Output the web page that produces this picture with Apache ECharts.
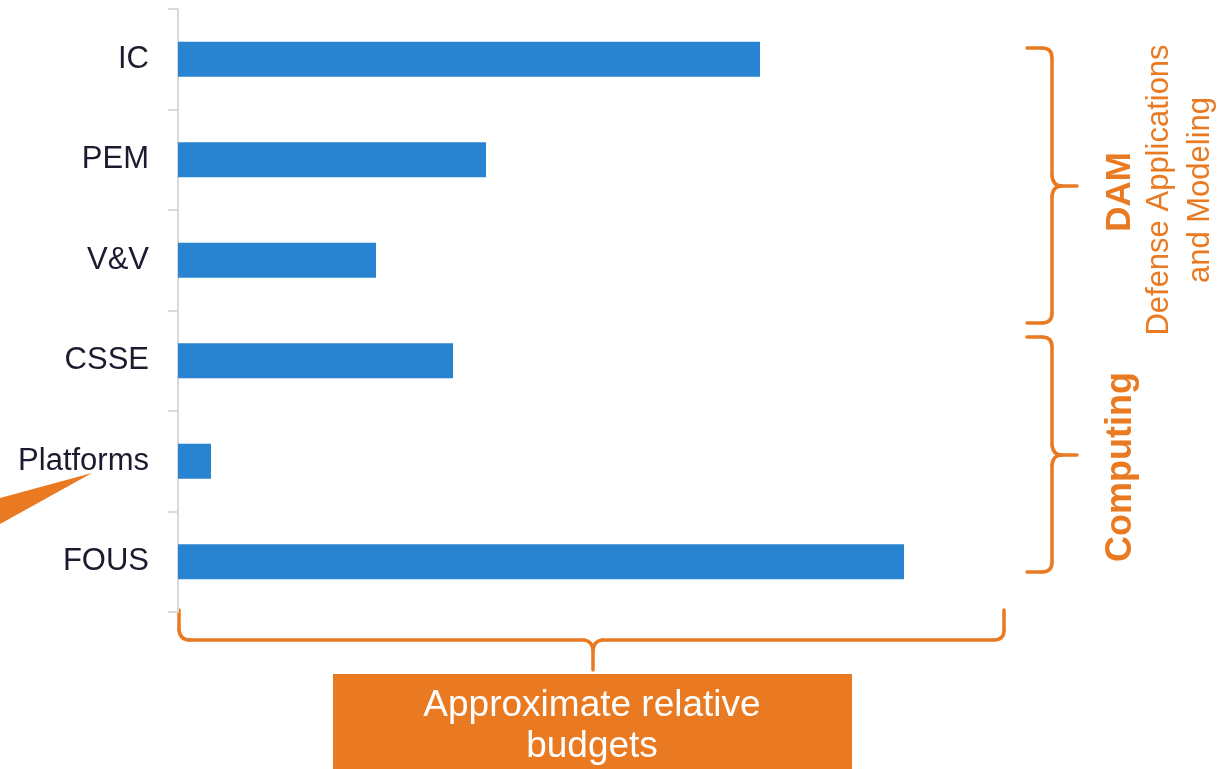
<!DOCTYPE html>
<html>
<head>
<meta charset="utf-8">
<style>
html,body{margin:0;padding:0;background:#fff;}
#chart{width:1228px;height:769px;}
</style>
<script src="https://cdn.jsdelivr.net/npm/echarts@6/dist/echarts.min.js"></script>
</head>
<body>
<div id="chart"></div>
<script>
// Data (relative budgets, arbitrary units)
const categories = ['IC', 'PEM', 'V&V', 'CSSE', 'Platforms', 'FOUS'];
const budgets = [582, 308, 198, 275, 33, 726];
const axisMax = 827;

const ORANGE = '#e97a22';
const BLUE = '#2883d0';
const FONT = '"Liberation Sans", Arial, sans-serif';
const LW = 3.5;

function seg(list) {
  return list.map(s => {
    if (s[0] === 'L') {
      return { type: 'line', shape: { x1: s[1], y1: s[2], x2: s[3], y2: s[4] },
        style: { stroke: ORANGE, lineWidth: LW, lineCap: 'round' } };
    }
    return { type: 'bezierCurve', shape: { x1: s[1], y1: s[2], cpx1: s[3], cpy1: s[4], x2: s[5], y2: s[6] },
      style: { stroke: ORANGE, lineWidth: LW, fill: null, lineCap: 'round' } };
  });
}

// horizontal brace below the chart
const bottomBrace = seg([
  ['L', 179, 610, 179, 630], ['Q', 179, 630, 180, 640, 190, 640],
  ['L', 190, 640, 584, 640], ['Q', 584, 640, 592, 641, 593, 650],
  ['L', 593, 650, 593, 670],
  ['Q', 593, 650, 594, 641, 602, 640],
  ['L', 602, 640, 994, 640], ['Q', 994, 640, 1004, 640, 1004, 630],
  ['L', 1004, 630, 1004, 610]
]);
function vBrace(top, tip, bottom) {
  return seg([
    ['L', 1027, top, 1042, top], ['Q', 1042, top, 1052, top, 1052, top + 10],
    ['L', 1052, top + 10, 1052, tip - 10], ['Q', 1052, tip - 10, 1053, tip, 1062, tip],
    ['L', 1062, tip, 1077, tip],
    ['Q', 1052, tip + 10, 1053, tip, 1062, tip],
    ['L', 1052, tip + 10, 1052, bottom - 10], ['Q', 1052, bottom - 10, 1052, bottom, 1042, bottom],
    ['L', 1042, bottom, 1027, bottom]
  ]);
}

const chart = echarts.init(document.getElementById('chart'));
chart.setOption({
  backgroundColor: '#ffffff',
  animation: false,
  grid: { left: 178, right: 1228 - 1005, top: 9, bottom: 157, containLabel: false },
  xAxis: {
    type: 'value', min: 0, max: axisMax, show: false,
    splitLine: { show: false }
  },
  yAxis: {
    type: 'category',
    data: categories,
    inverse: true,
    axisLine: { show: true, lineStyle: { color: '#d9d9d9', width: 2 } },
    axisTick: { show: true, length: 10, lineStyle: { color: '#d9d9d9', width: 2 } },
    axisLabel: { fontSize: 31, color: '#1b1b2f', fontFamily: FONT, margin: 29 },
    splitLine: { show: false }
  },
  series: [{
    type: 'bar',
    data: budgets,
    barWidth: 35,
    itemStyle: { color: BLUE },
    silent: true
  }],
  graphic: [
    { type: 'polygon', shape: { points: [[0, 498], [92, 473], [0, 524]] }, style: { fill: ORANGE } },
    ...bottomBrace,
    ...vBrace(48, 186, 323),
    ...vBrace(337, 455, 572),
    { type: 'text', x: 1120, y: 192, rotation: Math.PI / 2,
      style: { text: 'DAM', fill: ORANGE, font: 'bold 35px ' + FONT, align: 'center', verticalAlign: 'middle' } },
    { type: 'text', x: 1159, y: 190, rotation: Math.PI / 2,
      style: { text: 'Defense Applications', fill: ORANGE, font: '31px ' + FONT, align: 'center', verticalAlign: 'middle' } },
    { type: 'text', x: 1200, y: 190, rotation: Math.PI / 2,
      style: { text: 'and Modeling', fill: ORANGE, font: '31px ' + FONT, align: 'center', verticalAlign: 'middle' } },
    { type: 'text', x: 1121, y: 467, rotation: Math.PI / 2,
      style: { text: 'Computing', fill: ORANGE, font: 'bold 36px ' + FONT, align: 'center', verticalAlign: 'middle' } },
    { type: 'rect', shape: { x: 333, y: 674, width: 519, height: 100 }, style: { fill: ORANGE } },
    { type: 'text', x: 592, y: 706,
      style: { text: 'Approximate relative', fill: '#ffffff', font: '37px ' + FONT, align: 'center', verticalAlign: 'middle' } },
    { type: 'text', x: 592, y: 747,
      style: { text: 'budgets', fill: '#ffffff', font: '37px ' + FONT, align: 'center', verticalAlign: 'middle' } }
  ]
});
</script>
</body>
</html>
